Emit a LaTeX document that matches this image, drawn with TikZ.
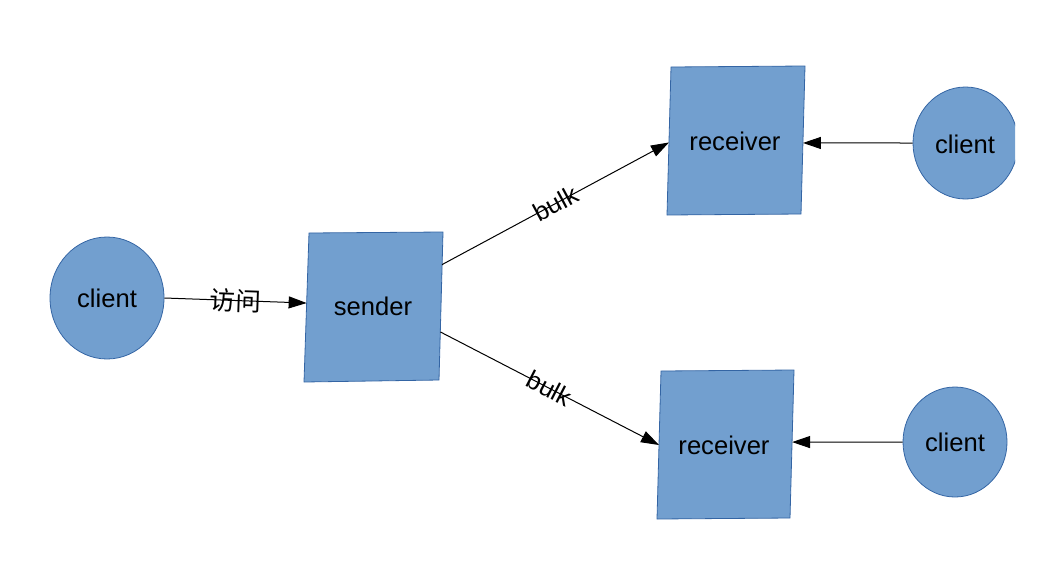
\documentclass[tikz,border=0pt]{standalone}
\usepackage{fontspec}
\setmainfont{Liberation Sans}
\newfontfamily\cjk{Noto Sans CJK SC}
\usetikzlibrary{arrows.meta,calc,shapes.geometric}
\definecolor{fillblue}{HTML}{729FCF}
\definecolor{edgeblue}{HTML}{3465A4}
\begin{document}
\begin{tikzpicture}[x=1pt,y=-1pt,
  boxfill/.style={draw=edgeblue, fill=fillblue, line width=0.8pt, line join=miter},
  disc/.style={draw=edgeblue, fill=fillblue, line width=0.8pt, ellipse, inner sep=0pt},
  txt/.style={font=\fontsize{25.6}{30}\selectfont, inner sep=0pt},
  conn/.style={line width=1pt, -{Triangle[length=18pt,width=12pt]}},
  lbl/.style={font=\fontsize{25.6}{30}\selectfont, inner sep=0pt, sloped}]
\useasboundingbox (0,0) rectangle (1056,576);

% corner coordinates of the square-ish boxes
\coordinate (s-nw) at (309,233); \coordinate (s-ne) at (443,232);
\coordinate (s-se) at (439,380); \coordinate (s-sw) at (304,382);
\coordinate (r1-nw) at (671,67); \coordinate (r1-ne) at (805,66);
\coordinate (r1-se) at (801,214); \coordinate (r1-sw) at (667,215);
\coordinate (r2-nw) at (661,371); \coordinate (r2-ne) at (794,370);
\coordinate (r2-se) at (790,518); \coordinate (r2-sw) at (657,519);

% shapes
\path[boxfill] (s-nw) -- (s-ne) -- (s-se) -- (s-sw) -- cycle;
\path[boxfill] (r1-nw) -- (r1-ne) -- (r1-se) -- (r1-sw) -- cycle;
\path[boxfill] (r2-nw) -- (r2-ne) -- (r2-se) -- (r2-sw) -- cycle;
\node[disc, minimum width=114pt, minimum height=122pt] (c1) at (107,298) {};
\begin{scope}
  \clip (0,0) rectangle (1015,576);
  \node[disc, minimum width=105pt, minimum height=112pt] (c2) at (965.5,143) {};
\end{scope}
\node[disc, minimum width=104pt, minimum height=110pt] (c3) at (955,442) {};

% texts
\node[txt] (t1) at (c1) {client};
\node[txt] (s) at (373,306) {sender};
\node[txt] (r1) at (735,141) {receiver};
\node[txt] (r2) at (724,445) {receiver};
\node[txt] (t5) at (965,144) {client};
\node[txt] (t6) at (955,442) {client};

% connectors
\draw[conn] (c1.east) -- node[lbl] (l1) {\cjk 访问} ($(s-nw)!0.47!(s-sw)$);
\draw[conn] ($(s-ne)!0.22!(s-se)$) -- node[lbl] (l2) {bulk} ($(r1-nw)!0.51!(r1-sw)$);
\draw[conn] ($(s-ne)!0.675!(s-se)$) -- node[lbl] (l3) {bulk} ($(r2-nw)!0.5!(r2-sw)$);
\draw[conn] (c2.west) -- ($(r1-ne)!0.52!(r1-se)$);
\draw[conn] (c3.west) -- ($(r2-ne)!0.487!(r2-se)$);
\end{tikzpicture}
\end{document}
